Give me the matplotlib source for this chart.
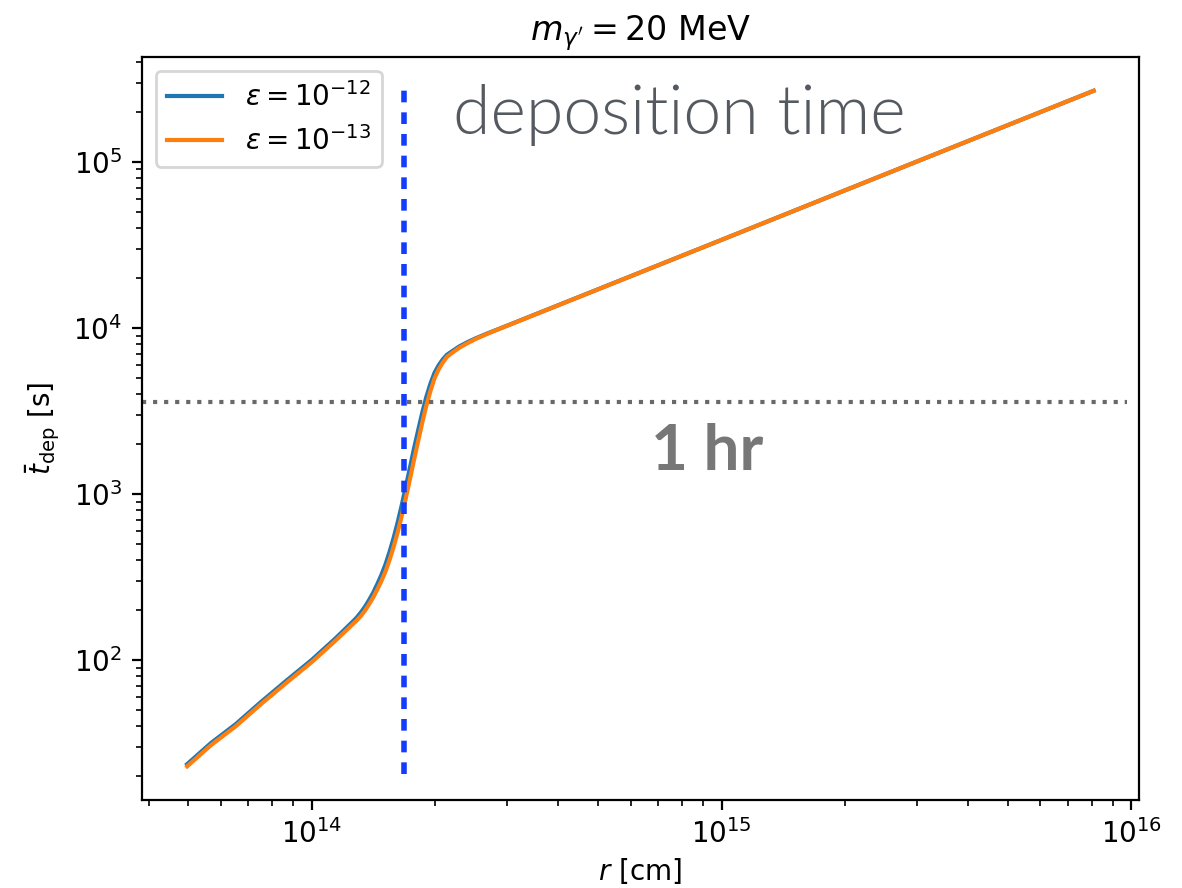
import numpy as np
import matplotlib
matplotlib.use("Agg")
import matplotlib.pyplot as plt

# radius [cm]
r = [4.97e13, 5.68e13, 6.53e13, 7.52e13, 8.65e13, 1.00e14, 1.14e14,
     1.259e14, 1.288e14, 1.318e14, 1.349e14, 1.380e14, 1.413e14, 1.445e14,
     1.479e14, 1.514e14, 1.549e14, 1.585e14, 1.622e14, 1.660e14, 1.698e14,
     1.738e14, 1.778e14, 1.820e14, 1.862e14, 1.905e14, 1.950e14, 1.995e14,
     2.042e14, 2.089e14, 2.138e14, 2.188e14, 2.291e14, 2.399e14, 2.512e14,
     2.692e14, 2.884e14, 1.00e15, 3.162e15, 8.09e15]

# mean deposition time [s]
t_eps12 = [23.6, 31.6, 41.1, 55.8, 74.6, 100, 134,
           170, 180, 193, 209, 229, 254, 285,
           324, 376, 447, 543, 676, 861, 1109,
           1445, 1884, 2427, 3090, 3846, 4624, 5370,
           5957, 6457, 6887, 7161, 7727, 8204, 8650,
           9290, 9931, 33884, 105925, 267917]
t_eps13 = [22.9, 30.7, 39.9, 54.2, 72.4, 97.0, 130,
           164, 173, 184, 198, 216, 238, 265,
           298, 341, 400, 480, 589, 741, 948,
           1233, 1611, 2090, 2691, 3404, 4180, 4978,
           5635, 6179, 6687, 6996, 7588, 8089, 8572,
           9247, 9908, 33884, 105925, 267917]

r_ref = 1.68e14   # vertical marker
t_hr = 3600.0     # 1 hour

fig = plt.figure(figsize=(5.91, 4.44), dpi=200)
ax = fig.add_axes([0.120, 0.099, 0.8436, 0.8368])

ax.plot(r, t_eps12, color="tab:blue", lw=1.5, label=r"$\varepsilon = 10^{-12}$")
ax.plot(r, t_eps13, color="tab:orange", lw=1.5, label=r"$\varepsilon = 10^{-13}$")
ax.set_xscale("log")
ax.set_yscale("log")

ax.axvline(r_ref, ymin=0.035, ymax=0.965, color="#143cff", lw=2, dashes=(2.1, 1.8))
ax.axhline(t_hr, xmin=0, xmax=0.988, color="dimgray", lw=1.5, ls=":")

ax.text(0.312, 0.897, "deposition time", transform=ax.transAxes, fontsize=24.5,
        family="Lato", fontweight=300, color="#555a60", ha="left", va="baseline")
ax.text(0.511, 0.444, "1 hr", transform=ax.transAxes, fontsize=23,
        family="Lato", fontweight="bold", color="#777777", ha="left", va="baseline")

ax.set_xlabel(r"$r$ [cm]", labelpad=2.5)
ax.set_ylabel(r"$\bar{t}_{\rm dep}$ [s]")
ax.set_title(r"$m_{\gamma'} = 20$ MeV")
ax.legend(loc="upper left")

fig.savefig("out.png", dpi=200)
